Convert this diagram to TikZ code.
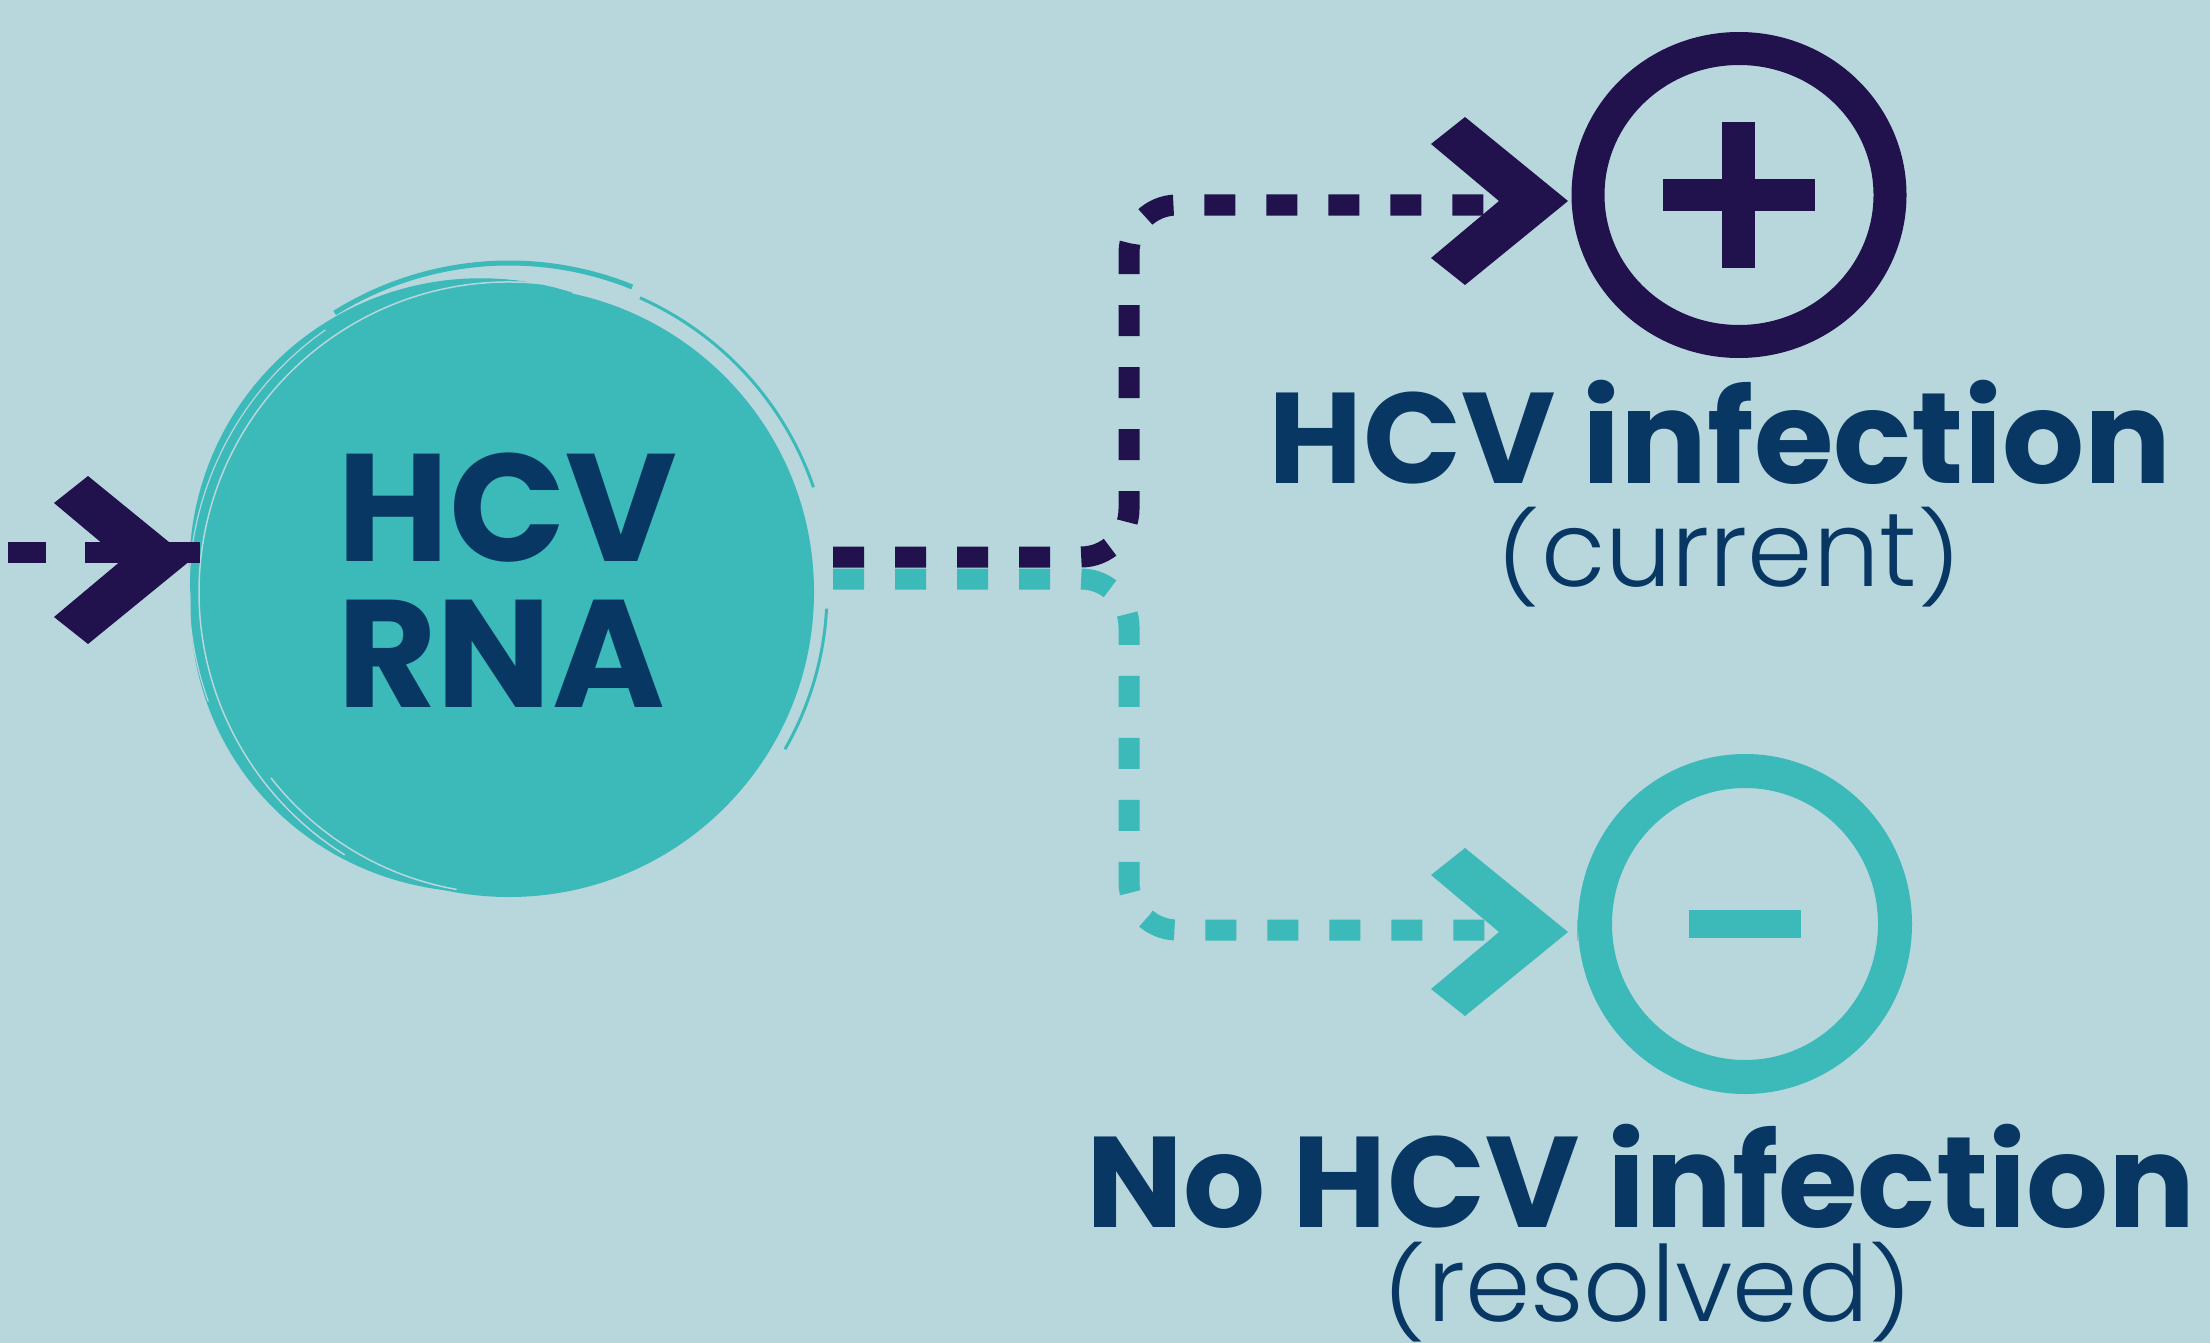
\documentclass[tikz,border=0pt]{standalone}
\usepackage{fontspec}
\setmainfont{Poppins}
\newfontfamily\boldf{Poppins}[UprightFont=* Bold]
\newfontfamily\lightf{Poppins}[UprightFont=* Light]
\usetikzlibrary{shapes.geometric,calc}
\definecolor{bg}{HTML}{B7D7DC}
\definecolor{tealc}{HTML}{3CB9B9}
\definecolor{purp}{HTML}{21124D}
\definecolor{navy}{HTML}{083763}
\newcommand\chevron[2]{\fill[#1,shift={#2}] (-137,-57) -- (-103,-84) -- (0,0) -- (-103,84) -- (-137,57) -- (-69,0) -- cycle;}
\newcommand\pp[1]{\raisebox{-4pt}{\scalebox{1}[0.85]{#1}}}
\tikzset{
  conn/.style={line width=21pt, dash pattern=on 31pt off 31pt, rounded corners=48pt},
  bigtext/.style={text=navy, inner sep=0pt, font=\boldf\fontsize{153pt}{146pt}\selectfont, align=left},
  labtext/.style={text=navy, inner sep=0pt, font=\boldf\fontsize{129pt}{130pt}\selectfont},
  subtext/.style={text=navy, inner sep=0pt, font=\lightf\fontsize{105pt}{110pt}\selectfont},
}
\begin{document}
\begin{tikzpicture}[x=1pt,y=-1pt]
\useasboundingbox (0,0) rectangle (2210,1343);
\fill[bg] (0,0) rectangle (2210,1343);
% brush strokes around main circle
\fill[tealc] plot[domain=78:205, samples=70] ({509+(306+22*sin((\x-78)*1.4173))*cos(\x)}, {592-(306+22*sin((\x-78)*1.4173))*sin(\x)})
  -- plot[domain=205:78, samples=70] ({509+300*cos(\x)}, {592-300*sin(\x)}) -- cycle;
\fill[tealc] plot[domain=150:258, samples=60] ({509+(305+17*sin((\x-150)*1.6667))*cos(\x)}, {592-(305+17*sin((\x-150)*1.6667))*sin(\x)})
  -- plot[domain=258:150, samples=60] ({509+300*cos(\x)}, {592-300*sin(\x)}) -- cycle;
\draw[tealc, line width=5pt] (509,592) ++(-68:329) arc[start angle=-68, end angle=-122, radius=329];
\draw[tealc, line width=3pt] (509,592) ++(-19:322) arc[start angle=-19, end angle=-66, radius=322];
\draw[tealc, line width=3pt] (509,592) ++(3:318) arc[start angle=3, end angle=30, radius=314];
\node[circle, fill=tealc, minimum size=610pt, inner sep=0pt] (rna) at (509,592) {};
\draw[bg, line width=1.5pt] (509,592) ++(-84:310) arc[start angle=-84, end angle=-238, radius=310];
\draw[bg, line width=1.2pt] (509,592) ++(-125:320) arc[start angle=-125, end angle=-200, radius=320];
\draw[bg, line width=1.5pt] (509,592) ++(100:302) arc[start angle=100, end angle=142, radius=302];
\node[bigtext, anchor=base west] (rnalabel) at (337,707) {HCV\\RNA};
% incoming arrow
\coordinate (src) at (8,552);
\draw[purp, line width=21pt, dash pattern=on 38pt off 39pt] (src) -- ($(rna.west)+(1,-40)$);
\chevron{purp}{(191,560)}
% result circles
\node[ellipse, draw=purp, line width=33pt, minimum width=302pt, minimum height=293pt, inner sep=0pt] (pos) at (1739,195) {};
\fill[purp] (1722,122) rectangle (1755,268);
\fill[purp] (1663,179) rectangle (1815,211);
\node[ellipse, draw=tealc, line width=34pt, minimum width=300pt, minimum height=306pt, inner sep=0pt] (neg) at (1745,924) {};
\fill[tealc] (1689,910) rectangle (1801,938);
% connectors
\draw[conn, purp] ($(rna.east)+(19,-35)$) -- (1129,557) -- (1129,205) -- ($(pos.west)+(0,10)$);
\draw[conn, tealc] ($(rna.east)+(19,-13)$) -- (1129,579) -- (1129,930) -- ($(neg.west)+(0,6)$);
\chevron{purp}{(1568,201)}
\chevron{tealc}{(1568,932)}
% labels
\node[labtext, anchor=base] (poslabel) at (1720,483) {HCV infection};
\node[subtext, anchor=base] (possub) at (1729,586) {\pp{(}current\pp{)}};
\node[labtext, anchor=base] (neglabel) at (1641,1227) {No HCV infection};
\node[subtext, anchor=base] (negsub) at (1648,1321) {\pp{(}resolved\pp{)}};
\end{tikzpicture}
\end{document}
